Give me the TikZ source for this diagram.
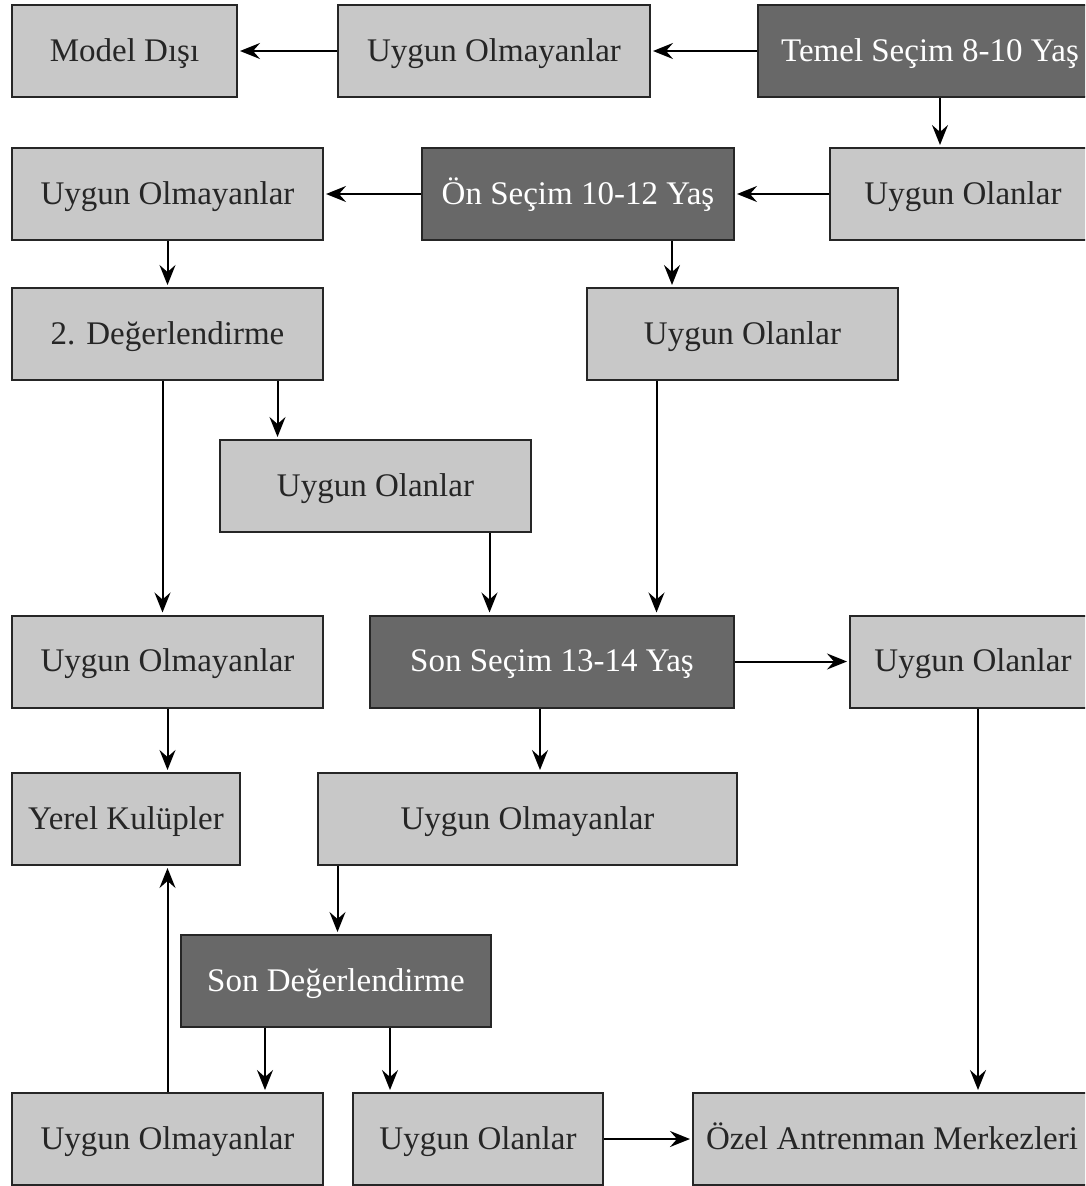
\documentclass[tikz,border=0pt]{standalone}
\usepackage{fontspec}
\setmainfont{Liberation Serif}
\usetikzlibrary{arrows.meta}

\definecolor{palegray}{RGB}{200,200,200}
\definecolor{deepgray}{RGB}{104,104,104}

\begin{document}
\begin{tikzpicture}[x=1pt,y=-1pt,
                    box/.style={draw=black!85,line width=2pt,minimum height=92pt,inner sep=0pt,
                                text height=24pt,text depth=4pt,
                                font=\fontsize{33}{40}\selectfont},
                    pale/.style={box,fill=palegray,text=black!85},
                    deep/.style={box,fill=deepgray,text=white},
                    flow/.style={->,line width=2pt,shorten >=2pt},
                    >={Stealth[length=20pt,width=16pt,inset=7pt]}]

\useasboundingbox (0,0) rectangle (1085,1186);
\clip (0,0) rectangle (1085,1186);

% row 1
\node[pale,minimum width=225pt] (model) at (124.5,51) {Model Dışı};
\node[pale,minimum width=312pt] (red1) at (494,51) {Uygun Olmayanlar};
\node[deep,minimum width=344pt] (temel) at (930,51) {Temel Seçim 8-10 Yaş};
% row 2
\node[pale,minimum width=311pt] (red2) at (167.5,194) {Uygun Olmayanlar};
\node[deep,minimum width=312pt] (on) at (578,194) {Ön Seçim 10-12 Yaş};
\node[pale,minimum width=266pt] (ok2) at (963,194) {Uygun Olanlar};
% row 3
\node[pale,minimum width=311pt] (deg) at (167.5,334) {2. Değerlendirme};
\node[pale,minimum width=311pt] (ok3) at (742.5,334) {Uygun Olanlar};
% row 4
\node[pale,minimum width=311pt] (ok4) at (375.5,486) {Uygun Olanlar};
% row 5
\node[pale,minimum width=311pt] (red5) at (167.5,661.5) {Uygun Olmayanlar};
\node[deep,minimum width=364pt] (son) at (552,661.5) {Son Seçim 13-14 Yaş};
\node[pale,minimum width=246pt] (ok5) at (973,661.5) {Uygun Olanlar};
% row 6
\node[pale,minimum width=228pt] (yerel) at (126,819) {Yerel Kulüpler};
\node[pale,minimum width=419pt] (red6) at (527.5,819) {Uygun Olmayanlar};
% row 7
\node[deep,minimum width=310pt] (sondeg) at (336,981) {Son Değerlendirme};
% row 8
\node[pale,minimum width=311pt] (red8) at (167.5,1139) {Uygun Olmayanlar};
\node[pale,minimum width=250pt] (ok8) at (478,1139) {Uygun Olanlar};
\node[pale,minimum width=398pt] (ozel) at (892,1139) {Özel Antrenman Merkezleri};

% connectors
\draw[flow] (temel) -- (red1);
\draw[flow] (red1) -- (model);
\draw[flow] ([xshift=10pt]temel.south) -- ([xshift=10pt]temel.south |- ok2.north);
\draw[flow] (ok2) -- (on);
\draw[flow] (on) -- (red2);
\draw[flow] ([xshift=94pt]on.south) -- ([xshift=94pt]on.south |- ok3.north);
\draw[flow] (red2) -- (deg);
\draw[flow] ([xshift=-5pt]deg.south) -- ([xshift=-5pt]deg.south |- red5.north);
\draw[flow] ([xshift=110pt]deg.south) -- ([xshift=110pt]deg.south |- ok4.north);
\draw[flow] ([xshift=114pt]ok4.south) -- ([xshift=114pt]ok4.south |- son.north);
\draw[flow] ([xshift=-86pt]ok3.south) -- ([xshift=-86pt]ok3.south |- son.north);
\draw[flow] (son) -- (ok5);
\draw[flow] ([xshift=-12pt]son.south) -- ([xshift=-12pt]son.south |- red6.north);
\draw[flow] (red5.south) -- (red5.south |- yerel.north);
\draw[flow] ([xshift=-190pt]red6.south) -- ([xshift=-190pt]red6.south |- sondeg.north);
\draw[flow] ([xshift=-71pt]sondeg.south) -- ([xshift=-71pt]sondeg.south |- red8.north);
\draw[flow] ([xshift=54pt]sondeg.south) -- ([xshift=54pt]sondeg.south |- ok8.north);
\draw[flow] (red8.north) -- (red8.north |- yerel.south);
\draw[flow] (ok8) -- (ozel);
\draw[flow] ([xshift=5pt]ok5.south) -- ([xshift=5pt]ok5.south |- ozel.north);

\end{tikzpicture}
\end{document}
